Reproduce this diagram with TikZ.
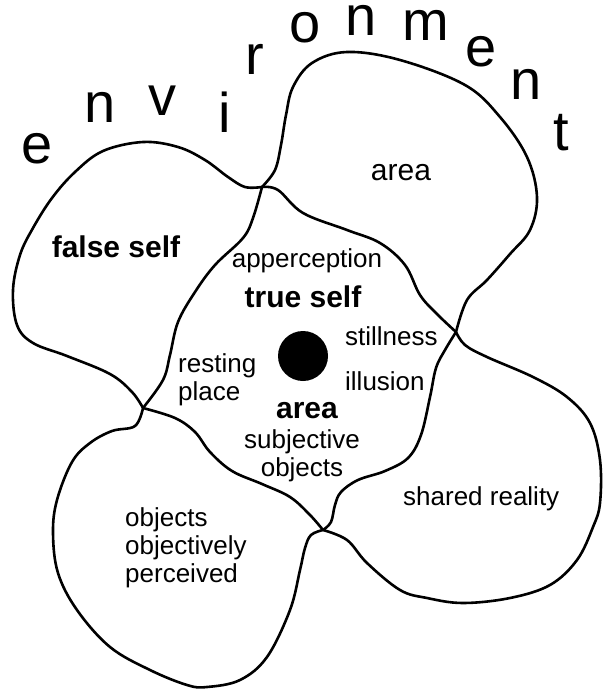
\documentclass[tikz,border=0pt]{standalone}
\usepackage{fontspec}
\setmainfont{Liberation Sans}
\usetikzlibrary{positioning}
\tikzset{
  lobe/.style={line width=2.6pt, line join=round, line cap=round},
  txt/.style={inner sep=0pt, align=left, font=\fontsize{26}{28}\selectfont},
  boldtxt/.style={inner sep=0pt, font=\fontsize{30}{32}\selectfont\bfseries},
  letter/.style={inner sep=0pt, anchor=base, font=\fontsize{56}{60}\selectfont},
  dot/.style={circle, fill=black, minimum size=50pt, inner sep=0pt}
}

\begin{document}
\begin{tikzpicture}[x=1pt, y=-1pt]
  \useasboundingbox (0,0) rectangle (602,690);

  % Junctions
  \coordinate (j1) at (262,187);
  \coordinate (j2) at (143,408);
  \coordinate (j3) at (456,332);
  \coordinate (j4) at (323,530);

  % Central area
  \draw[lobe] plot[smooth, tension=0.6] coordinates {(j1) (278,190) (303,213) (347,230) (380,243) (405,265) (420,295) (437,314) (j3)};
  \draw[lobe] plot[smooth, tension=0.6] coordinates {(j3) (445,350) (436,368) (430,397) (421,435) (408,458) (385,471) (358,480) (341,492) (335,505) (331,522) (j4)};
  \draw[lobe] plot[smooth, tension=0.6] coordinates {(j4) (310,515) (290,497) (262,484) (232,471) (210,452) (195,432) (175,418) (j2)};
  \draw[lobe] plot[smooth, tension=0.6] coordinates {(j2) (163,380) (170,355) (178,322) (195,292) (215,265) (243,238) (253,218) (j1)};

  % Outer lobes
  \draw[lobe] plot[smooth, tension=0.6] coordinates {(j1) (275,170) (281,145) (286,115) (293,87) (312,63) (347,52) (400,60) (465,85) (500,117) (527,157) (537,197) (530,230) (510,254) (487,280) (467,300) (j3)};
  \draw[lobe] plot[smooth, tension=0.6] coordinates {(j3) (465,345) (487,357) (533,377) (567,397) (590,423) (600,460) (600,503) (593,527) (577,560) (550,585) (510,598) (463,603) (427,598) (400,590) (367,563) (347,540) (j4)};
  \draw[lobe] plot[smooth, tension=0.6] coordinates {(j4) (311,535) (305,548) (300,570) (290,610) (267,657) (240,680) (207,687) (187,685) (150,670) (110,647) (77,610) (58,573) (53,533) (57,500) (72,462) (90,443) (112,431) (135,426) (j2)};
  \draw[lobe] plot[smooth, tension=0.6] coordinates {(j2) (132,392) (110,374) (67,356) (33,343) (17,325) (13,290) (20,255) (33,228) (52,198) (75,172) (103,151) (143,142) (178,147) (205,160) (228,177) (245,187) (j1)};

  % Centre dot
  \node[dot] (core) at (303,356) {};

  % Labels (multi-line nodes sit on their last line)
  \node[txt, anchor=base] (apper) at (307,267) {apperception};
  \node[boldtxt, anchor=base] (tself) at (303,307) {true self};
  \node[txt, anchor=base west] (still) at (345,345) {stillness};
  \node[txt, anchor=base west] (illus) at (345,390) {illusion};
  \node[txt, anchor=base west] (rest) at (178,400) {resting\\place};
  \node[boldtxt, anchor=base] (carea) at (307,418) {area};
  \node[txt, anchor=base, align=center] (subj) at (302,476) {subjective\\objects};
  \node[boldtxt, anchor=base] (fself) at (116,257) {false self};
  \node[txt, font=\fontsize{30}{32}\selectfont, anchor=base] (tarea) at (401,180) {area};
  \node[txt, anchor=base west] (share) at (403,505) {shared reality};
  \node[txt, anchor=base west] (objs) at (125,582) {objects\\objectively\\perceived};

  % Environment letters
  \foreach \ch/\x/\y [count=\k] in {e/37/163, n/100/123, v/162/115, i/225/132, r/255/75, o/305/43, n/361/36, m/426/41, e/481/67, n/526/100, t/561/150}
    \node[letter] (l\k) at (\x,\y) {\ch};
\end{tikzpicture}
\end{document}
